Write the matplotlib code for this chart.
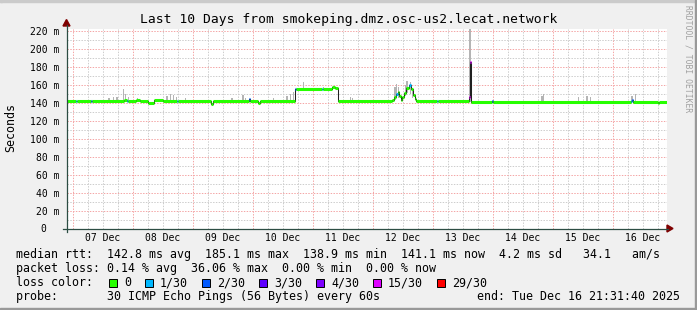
import matplotlib
matplotlib.use('Agg')
import matplotlib.pyplot as plt
import matplotlib.dates as mdates
from matplotlib.patches import Rectangle, Polygon
from matplotlib.lines import Line2D
import numpy as np
import pandas as pd

W, H = 697, 310
MONO = 'DejaVu Sans Mono'

title = 'Last 10 Days from smokeping.dmz.osc-us2.lecat.network'
t_start = '2025-12-06 21:31:40'
t_end = '2025-12-16 21:31:40'
day_labels = ['07 Dec', '08 Dec', '09 Dec', '10 Dec', '11 Dec',
              '12 Dec', '13 Dec', '14 Dec', '15 Dec', '16 Dec']
y_ticks = [0, 20, 40, 60, 80, 100, 120, 140, 160, 180, 200, 220]

# median rtt, hours after 07 Dec 00:00, step values
rtt_hours = [-2.53, 1.3, 1.7, 7.3, 7.7, 20.6, 21.6, 22.0, 25.5, 26.8,
             30.3, 32.4, 36.3, 41.6, 42.0, 55.4, 56.2, 70.5, 70.9, 74.1,
             74.9, 89.1, 89.5, 99.8, 100.2, 103.8, 105.1, 106.2, 127.8, 128.5,
             129.3, 130.0, 130.7, 131.3, 131.9, 132.7, 133.5, 134.4, 135.3, 136.1,
             136.9, 137.5, 145.6, 146.0, 158.7, 159.0, 159.4, 167.6, 168.0, 223.4,
             223.8, 224.2, 234.2, 234.7, 237.53]
rtt_ms = [141.8, 141.8, 141.8, 141.8, 141.8, 143.0, 142.5, 141.8, 143.0, 141.8,
          139.3, 143.4, 141.8, 141.8, 141.8, 139.0, 141.8, 144.5, 141.8, 139.5,
          141.8, 155.5, 155.5, 155.5, 155.5, 158.0, 156.5, 141.8, 143.0, 147.0,
          150.0, 152.0, 148.0, 143.0, 146.0, 151.0, 156.0, 159.5, 155.0, 149.0,
          144.0, 141.8, 141.8, 141.8, 146.0, 185.1, 141.2, 141.5, 141.2, 142.5,
          143.5, 141.2, 140.2, 141.2, 141.2]
rtt_loss = [0, 1, 0, 2, 0, 0, 1, 0, 0, 0,
            0, 0, 0, 1, 0, 0, 0, 2, 0, 0,
            0, 2, 0, 1, 0, 0, 0, 0, 0, 0,
            1, 0, 0, 0, 0, 0, 0, 1, 0, 0,
            0, 0, 1, 0, 15, 15, 0, 2, 0, 1,
            2, 0, 0, 0, 0]

# smoke (ping spread) spikes
smoke_hours = [14.5, 16.3, 17.8, 20.4, 21.1, 22.3, 26.0, 37.8, 39.1, 40.3,
               41.5, 45.1, 63.8, 68.2, 69.1, 80.4, 85.8, 87.1, 88.3, 92.4,
               100.4, 111.1, 111.9, 128.9, 129.5, 130.3, 133.2, 133.8, 135.1, 135.9,
               159.0, 187.8, 188.4, 202.4, 205.8, 207.1, 223.8, 225.1]
smoke_low = [141, 141, 141, 141, 141, 141, 141, 141, 141, 141,
             141, 141, 141, 141, 141, 141, 141, 141, 141, 154,
             154, 141, 141, 143, 146, 145, 148, 151, 150, 145,
             141, 141, 141, 141, 141, 141, 141, 141]
smoke_top = [145, 146, 147, 155, 150, 146, 145, 148, 150, 149,
             147, 145, 145, 149, 145, 145, 148, 150, 152, 163,
             158, 146, 145, 158, 161, 158, 160, 164, 163, 157,
             222, 148, 150, 146, 148, 147, 148, 150]

loss_steps = [0, 1, 2, 3, 4, 15, 29]
loss_labels = ['0', '1/30', '2/30', '3/30', '4/30', '15/30', '29/30']
loss_colors = ['#26ff00', '#00b8ff', '#0059ff', '#5e00ff', '#7e00ff', '#dd00ff', '#ff0000']

legend_rtt = 'median rtt:  142.8 ms avg  185.1 ms max  138.9 ms min  141.1 ms now  4.2 ms sd   34.1   am/s'
legend_loss = 'packet loss: 0.14 % avg  36.06 % max  0.00 % min  0.00 % now'
legend_probe = 'probe:       30 ICMP Echo Pings (56 Bytes) every 60s'
legend_end = 'end: Tue Dec 16 21:31:40 2025'


def P(x, y):
    return (x / W, 1 - y / H)


def to_num(hours):
    base = pd.Timestamp('2025-12-07 00:00')
    ts = base + pd.to_timedelta(np.asarray(hours, dtype=float), unit='h')
    return mdates.date2num(ts.to_pydatetime())


def loss_color(n):
    c = loss_colors[0]
    for step, col in zip(loss_steps, loss_colors):
        if n >= step:
            c = col
    return c


fig = plt.figure(figsize=(W / 100, H / 100), dpi=100, facecolor='#F0F0F0')

# 3d frame
fig.patches.append(Rectangle(P(0, 2), 2 / W, (H - 2) / H, transform=fig.transFigure, color='#CBCBCB'))
fig.patches.append(Rectangle(P(0, 2), W / W, 2 / H, transform=fig.transFigure, color='#CBCBCB'))
fig.patches.append(Rectangle(P(W - 2, H), 2 / W, 1, transform=fig.transFigure, color='#999999'))
fig.patches.append(Rectangle(P(0, H), 1, 2 / H, transform=fig.transFigure, color='#999999'))

ax = fig.add_axes([66.5 / W, 1 - 228.5 / H, 600 / W, 200 / H])
ax.set_facecolor('white')
for s in ax.spines.values():
    s.set_visible(False)

x0 = mdates.date2num(pd.Timestamp(t_start).to_pydatetime())
x1 = mdates.date2num(pd.Timestamp(t_end).to_pydatetime())
ax.set_xlim(x0, x1)
ax.set_ylim(0, 222.8)

# grid
dot = (0, (1.4, 1.4))
for h in range(0, 240, 6):
    xv = to_num([h])[0]
    if xv < x0 or xv > x1:
        continue
    major = h % 24 == 0
    ax.axvline(xv, color='#F4A6A6' if major else '#CDCDCD', lw=0.72, ls=dot,
               zorder=0.5 if major else 0.4)
for v in range(10, 230, 10):
    major = v % 20 == 0
    ax.axhline(v, color='#F4A6A6' if major else '#CDCDCD', lw=0.72, ls=dot,
               zorder=0.5 if major else 0.4)

# smoke
sx = to_num(smoke_hours)
ax.bar(sx, np.array(smoke_top) - np.array(smoke_low), bottom=smoke_low,
       width=1.5 / 60, color='#B4B4B4', linewidth=0, zorder=1)

# median
rx = to_num(rtt_hours)
ax.plot(rx, rtt_ms, drawstyle='steps-post', color='#202020', lw=0.75, zorder=2)
cols = [loss_color(n) for n in rtt_loss]
ax.hlines(rtt_ms[:-1], rx[:-1], rx[1:], colors=cols[:-1], lw=2.2, zorder=3)

# ticks
noons = to_num([12 + 24 * i for i in range(10)])
ax.set_xticks(noons)
ax.set_xticklabels(day_labels, fontfamily=MONO, fontsize=7.0)
ax.set_yticks(y_ticks)
ax.set_yticklabels(['%d m' % v if v else '0  ' for v in y_ticks], fontfamily=MONO, fontsize=7.0)
ax.tick_params(axis='x', length=0, pad=3.2)
ax.tick_params(axis='y', length=0, pad=5.4)

# axes with arrows
axis_col = '#2C4D43'
fig.lines.append(Line2D([P(63, 0)[0], P(668, 0)[0]], [P(0, 228.5)[1]] * 2,
                        transform=fig.transFigure, color=axis_col, lw=0.9))
fig.lines.append(Line2D([P(66.5, 0)[0]] * 2, [P(0, 231.5)[1], P(0, 25)[1]],
                        transform=fig.transFigure, color=axis_col, lw=0.9))
fig.patches.append(Polygon([P(667, 225), P(667, 232), P(673, 228.5)], closed=True,
                           transform=fig.transFigure, color='#7F0000'))
fig.patches.append(Polygon([P(63, 26), P(70, 26), P(66.5, 19.5)], closed=True,
                           transform=fig.transFigure, color='#7F0000'))

# texts
fig.text(*P(348.5, 23.5), title, ha='center', va='baseline', fontfamily=MONO, fontsize=9.4)
fig.text(*P(11, 128), 'Seconds', ha='center', va='center', rotation=90,
         fontfamily=MONO, fontsize=8.37)
fig.text(*P(688, 59), 'RRDTOOL / TOBI OETIKER', ha='center', va='center', rotation=270,
         fontfamily=MONO, fontsize=5.8, color='#A0A0A0')

fig.text(*P(16, 258), legend_rtt, ha='left', va='baseline', fontfamily=MONO, fontsize=8.37)
fig.text(*P(16, 272.3), legend_loss, ha='left', va='baseline', fontfamily=MONO, fontsize=8.37)
fig.text(*P(16, 286.3), 'loss color:', ha='left', va='baseline', fontfamily=MONO, fontsize=8.37)
fig.text(*P(16, 300.3), legend_probe, ha='left', va='baseline', fontfamily=MONO, fontsize=8.37)
fig.text(*P(680, 300.3), legend_end, ha='right', va='baseline', fontfamily=MONO, fontsize=8.37)

bx = 109
for lab, col in zip(loss_labels, loss_colors):
    fig.patches.append(Rectangle(P(bx, 286.5), 8 / W, 8 / H, transform=fig.transFigure,
                                 facecolor=col, edgecolor='black', lw=0.7))
    fig.text(*P(bx + 15, 286.3), lab, ha='left', va='baseline', fontfamily=MONO, fontsize=8.37)
    bx = bx + 15 + 7 * len(lab) + 14

fig.savefig('out.png', dpi=100, facecolor=fig.get_facecolor())
